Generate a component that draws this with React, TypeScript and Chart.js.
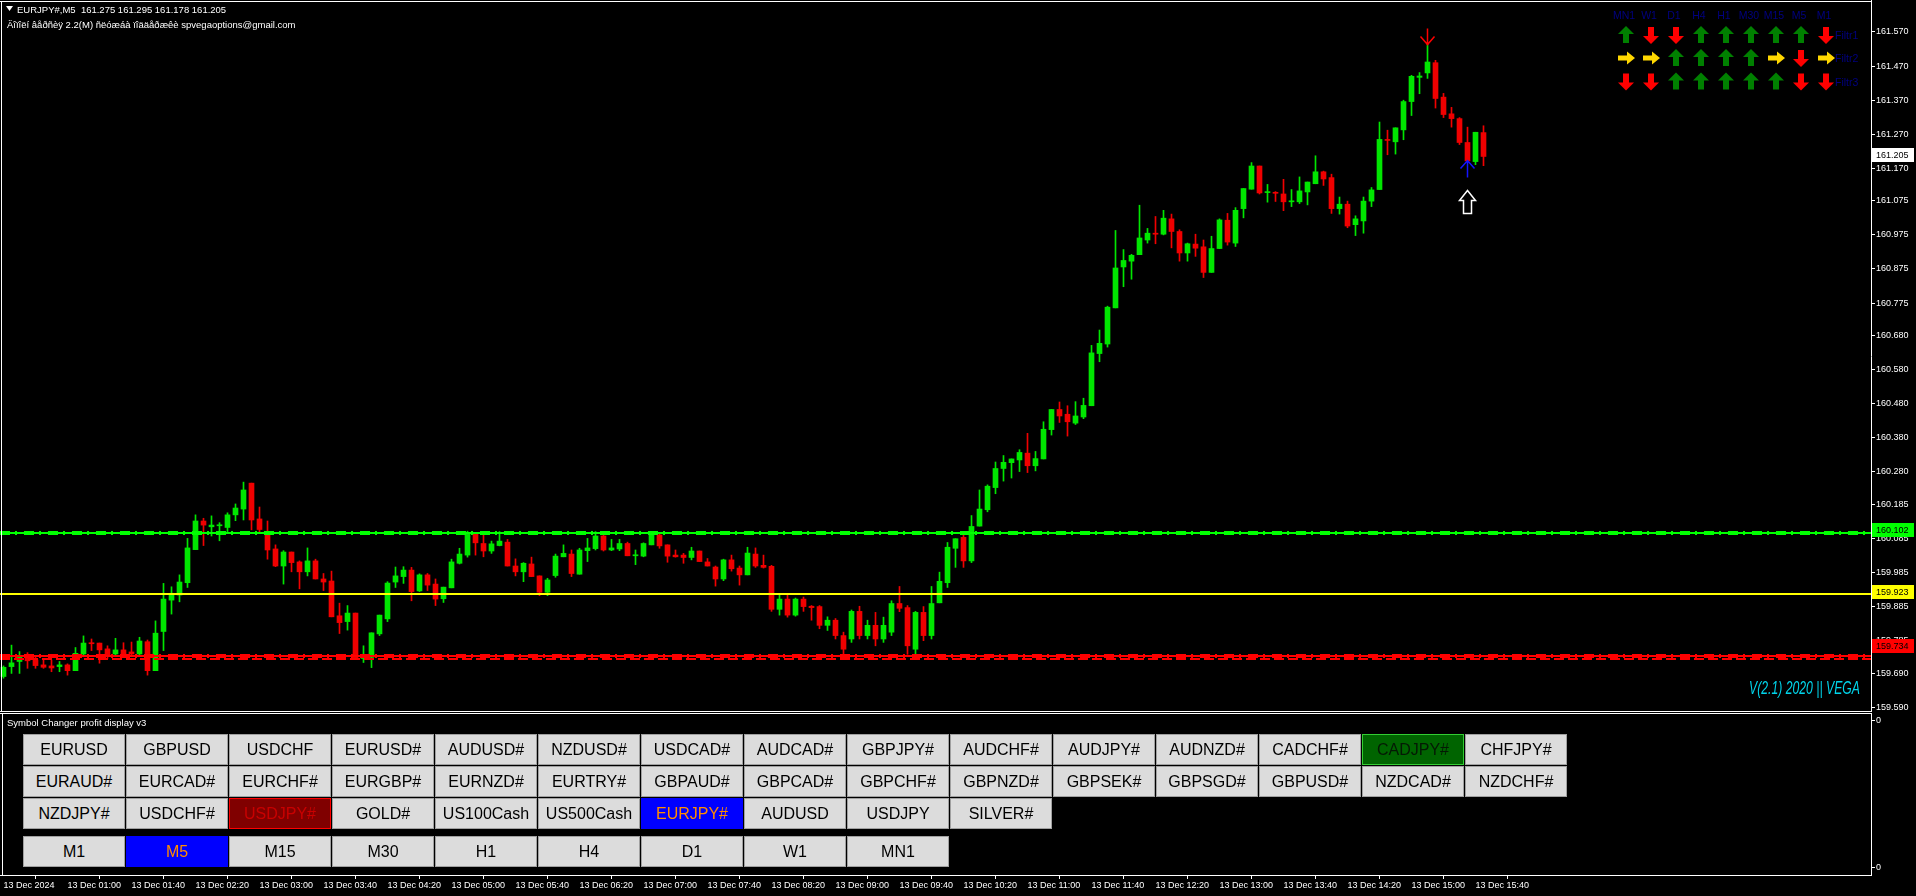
import React, { useEffect, useRef } from "react";
import { Chart, registerables } from "chart.js";

Chart.register(...registerables);

const FONT = '"Liberation Sans", Arial, sans-serif';

// ---------- DATA ----------
const timeLabels = [
  "13 Dec 2024", "13 Dec 01:00", "13 Dec 01:40", "13 Dec 02:20", "13 Dec 03:00", "13 Dec 03:40",
  "13 Dec 04:20", "13 Dec 05:00", "13 Dec 05:40", "13 Dec 06:20", "13 Dec 07:00", "13 Dec 07:40",
  "13 Dec 08:20", "13 Dec 09:00", "13 Dec 09:40", "13 Dec 10:20", "13 Dec 11:00", "13 Dec 11:40",
  "13 Dec 12:20", "13 Dec 13:00", "13 Dec 13:40", "13 Dec 14:20", "13 Dec 15:00", "13 Dec 15:40",
];
const barsPerTimeLabel = 8;

const opens = [
  159.680, 159.709, 159.724, 159.743, 159.728, 159.714, 159.711, 159.709, 159.714, 159.697,
  159.746, 159.779, 159.778, 159.761, 159.746, 159.758, 159.752, 159.746, 159.782, 159.697,
  159.812, 159.904, 159.919, 159.955, 160.052, 160.136, 160.119, 160.122, 160.117, 160.154,
  160.171, 160.247, 160.142, 160.105, 160.054, 160.004, 160.045, 160.016, 159.987, 160.019,
  159.966, 159.960, 159.858, 159.841, 159.866, 159.733, 159.736, 159.805, 159.849, 159.957,
  159.973, 159.992, 159.931, 159.978, 159.951, 159.908, 159.940, 160.012, 160.036, 160.098,
  160.070, 160.048, 160.064, 160.074, 160.004, 159.987, 160.010, 159.975, 159.927, 159.976,
  160.031, 160.039, 159.980, 160.049, 160.055, 160.092, 160.051, 160.054, 160.070, 160.034,
  160.033, 160.066, 160.095, 160.066, 160.036, 160.036, 160.029, 160.048, 160.016, 160.001,
  159.966, 160.022, 159.998, 159.978, 160.039, 160.006, 160.003, 159.877, 159.907, 159.860,
  159.907, 159.886, 159.885, 159.830, 159.845, 159.800, 159.790, 159.871, 159.800, 159.830,
  159.790, 159.810, 159.894, 159.882, 159.760, 159.868, 159.800, 159.896, 159.955, 160.056,
  160.088, 160.019, 160.121, 160.169, 160.234, 160.290, 160.307, 160.315, 160.335, 160.298,
  160.318, 160.404, 160.463, 160.449, 160.423, 160.441, 160.474, 160.627, 160.655, 160.761,
  160.881, 160.898, 160.917, 160.960, 160.980, 160.977, 161.022, 160.985, 160.922, 160.948,
  160.940, 160.865, 160.935, 161.018, 160.951, 161.052, 161.109, 161.177, 161.099, 161.099,
  161.095, 161.072, 161.072, 161.101, 161.125, 161.160, 161.143, 161.052, 161.065, 161.005,
  161.016, 161.074, 161.108, 161.255, 161.248, 161.283, 161.366, 161.437, 161.450, 161.480,
  161.379, 161.330, 161.316, 161.246, 161.190, 161.275,
];
const highs = [
  159.711, 159.772, 159.753, 159.750, 159.738, 159.733, 159.728, 159.724, 159.717, 159.765,
  159.799, 159.790, 159.778, 159.770, 159.792, 159.779, 159.781, 159.795, 159.787, 159.843,
  159.953, 159.943, 159.978, 160.085, 160.154, 160.144, 160.151, 160.131, 160.160, 160.186,
  160.250, 160.247, 160.177, 160.136, 160.066, 160.049, 160.045, 160.019, 160.057, 160.024,
  159.982, 159.989, 159.895, 159.888, 159.866, 159.770, 159.808, 159.860, 159.958, 160.001,
  160.002, 160.000, 159.981, 159.982, 159.966, 159.942, 160.024, 160.056, 160.106, 160.102,
  160.100, 160.077, 160.105, 160.082, 160.025, 160.014, 160.030, 159.975, 159.968, 160.039,
  160.066, 160.051, 160.056, 160.085, 160.105, 160.100, 160.082, 160.082, 160.074, 160.051,
  160.072, 160.102, 160.098, 160.066, 160.051, 160.041, 160.059, 160.048, 160.026, 160.004,
  160.024, 160.036, 160.004, 160.059, 160.057, 160.036, 160.006, 159.922, 159.918, 159.910,
  159.913, 159.888, 159.888, 159.855, 159.850, 159.810, 159.875, 159.886, 159.845, 159.868,
  159.854, 159.902, 159.944, 159.888, 159.871, 159.885, 159.944, 159.986, 160.073, 160.084,
  160.096, 160.152, 160.227, 160.242, 160.309, 160.328, 160.318, 160.345, 160.393, 160.340,
  160.427, 160.463, 160.485, 160.474, 160.486, 160.496, 160.651, 160.696, 160.766, 160.988,
  160.932, 160.918, 161.062, 160.994, 161.029, 161.047, 161.036, 160.990, 160.951, 160.977,
  160.960, 160.971, 161.022, 161.038, 161.055, 161.111, 161.187, 161.177, 161.123, 161.102,
  161.138, 161.108, 161.145, 161.130, 161.207, 161.162, 161.153, 161.086, 161.074, 161.031,
  161.086, 161.114, 161.306, 161.282, 161.289, 161.370, 161.443, 161.451, 161.536, 161.487,
  161.390, 161.349, 161.319, 161.291, 161.276, 161.295,
];
const lows = [
  159.675, 159.689, 159.689, 159.704, 159.704, 159.704, 159.694, 159.694, 159.684, 159.697,
  159.738, 159.756, 159.719, 159.733, 159.738, 159.738, 159.738, 159.743, 159.684, 159.697,
  159.756, 159.863, 159.899, 159.941, 160.052, 160.064, 160.092, 160.078, 160.100, 160.137,
  160.139, 160.110, 160.100, 160.024, 160.002, 159.951, 159.987, 159.937, 159.975, 159.966,
  159.932, 159.855, 159.806, 159.816, 159.733, 159.721, 159.706, 159.800, 159.841, 159.941,
  159.953, 159.902, 159.929, 159.932, 159.888, 159.897, 159.940, 160.010, 160.030, 160.036,
  160.031, 160.041, 160.063, 160.004, 159.975, 159.958, 159.973, 159.917, 159.917, 159.971,
  160.031, 159.973, 159.980, 160.017, 160.051, 160.048, 160.049, 160.049, 160.034, 160.008,
  160.031, 160.066, 160.056, 160.015, 160.030, 160.012, 160.022, 160.017, 160.004, 159.945,
  159.961, 159.989, 159.948, 159.978, 160.000, 159.998, 159.871, 159.860, 159.854, 159.857,
  159.871, 159.845, 159.820, 159.815, 159.790, 159.745, 159.780, 159.790, 159.790, 159.770,
  159.780, 159.800, 159.870, 159.745, 159.740, 159.785, 159.790, 159.896, 159.941, 160.000,
  160.000, 160.014, 160.121, 160.163, 160.216, 160.253, 160.262, 160.281, 160.278, 160.283,
  160.318, 160.388, 160.425, 160.385, 160.419, 160.436, 160.474, 160.603, 160.646, 160.761,
  160.823, 160.845, 160.917, 160.951, 160.949, 160.975, 160.937, 160.898, 160.898, 160.912,
  160.850, 160.865, 160.935, 160.945, 160.941, 161.025, 161.109, 161.095, 161.071, 161.073,
  161.046, 161.058, 161.067, 161.063, 161.125, 161.120, 161.038, 161.036, 160.996, 160.973,
  160.980, 161.058, 161.108, 161.210, 161.212, 161.254, 161.325, 161.389, 161.434, 161.347,
  161.319, 161.291, 161.240, 161.190, 161.181, 161.178,
];
const closes = [
  159.707, 159.720, 159.736, 159.726, 159.712, 159.707, 159.705, 159.714, 159.697, 159.748,
  159.778, 159.776, 159.758, 159.743, 159.758, 159.746, 159.746, 159.784, 159.697, 159.807,
  159.907, 159.924, 159.957, 160.057, 160.136, 160.124, 160.124, 160.124, 160.154, 160.174,
  160.227, 160.139, 160.111, 160.051, 160.004, 160.045, 160.014, 159.987, 160.019, 159.966,
  159.957, 159.855, 159.838, 159.866, 159.733, 159.745, 159.808, 159.860, 159.954, 159.975,
  159.992, 159.929, 159.978, 159.948, 159.907, 159.942, 160.016, 160.039, 160.098, 160.072,
  160.048, 160.069, 160.077, 160.004, 159.987, 160.012, 159.973, 159.927, 159.963, 160.033,
  160.041, 159.982, 160.051, 160.057, 160.092, 160.051, 160.057, 160.070, 160.034, 160.036,
  160.070, 160.098, 160.063, 160.033, 160.031, 160.029, 160.048, 160.017, 160.004, 159.966,
  160.022, 159.996, 159.978, 160.042, 160.004, 160.000, 159.877, 159.907, 159.860, 159.907,
  159.885, 159.882, 159.830, 159.845, 159.800, 159.760, 159.871, 159.800, 159.830, 159.790,
  159.830, 159.894, 159.880, 159.770, 159.868, 159.800, 159.894, 159.959, 160.059, 160.084,
  160.019, 160.120, 160.171, 160.238, 160.290, 160.308, 160.318, 160.337, 160.298, 160.319,
  160.405, 160.463, 160.444, 160.427, 160.444, 160.475, 160.629, 160.657, 160.763, 160.878,
  160.900, 160.915, 160.966, 160.980, 160.977, 161.024, 160.985, 160.922, 160.949, 160.936,
  160.865, 160.935, 161.019, 160.954, 161.047, 161.111, 161.177, 161.098, 161.101, 161.097,
  161.072, 161.074, 161.104, 161.130, 161.160, 161.139, 161.052, 161.065, 161.001, 161.022,
  161.074, 161.107, 161.255, 161.252, 161.289, 161.366, 161.440, 161.441, 161.482, 161.375,
  161.328, 161.316, 161.246, 161.192, 161.276, 161.205,
];

const priceTicks = [
  161.570, 161.470, 161.370, 161.270, 161.170, 161.075, 160.975, 160.875, 160.775, 160.680,
  160.580, 160.480, 160.380, 160.280, 160.185, 160.085, 159.985, 159.885, 159.785, 159.690, 159.590,
];
const levelPrices = [160.102, 159.923, 159.740, 159.734];
const levelLabelPrices = [160.102, 159.923, 159.734];
const lastPrice = 161.205;
const sellSignalBars = [178];
const buySignalBars = [183];
const hollowArrowPrices = [161.105];

const panelTimeframes = ["MN1", "W1", "D1", "H4", "H1", "M30", "M15", "M5", "M1"];
const panelFilters = ["Filtr1", "Filtr2", "Filtr3"];
const filtr1 = ["up", "down", "down", "up", "up", "up", "up", "up", "down"];
const filtr2 = ["right", "right", "up", "up", "up", "up", "right", "down", "right"];
const filtr3 = ["down", "down", "up", "up", "up", "up", "up", "down", "down"];

const symbolsRow1 = ["EURUSD", "GBPUSD", "USDCHF", "EURUSD#", "AUDUSD#", "NZDUSD#", "USDCAD#", "AUDCAD#", "GBPJPY#", "AUDCHF#", "AUDJPY#", "AUDNZD#", "CADCHF#", "CADJPY#", "CHFJPY#"];
const symbolsRow2 = ["EURAUD#", "EURCAD#", "EURCHF#", "EURGBP#", "EURNZD#", "EURTRY#", "GBPAUD#", "GBPCAD#", "GBPCHF#", "GBPNZD#", "GBPSEK#", "GBPSGD#", "GBPUSD#", "NZDCAD#", "NZDCHF#"];
const symbolsRow3 = ["NZDJPY#", "USDCHF#", "USDJPY#", "GOLD#", "US100Cash", "US500Cash", "EURJPY#", "AUDUSD", "USDJPY", "SILVER#"];
const periodButtons = ["M1", "M5", "M15", "M30", "H1", "H4", "D1", "W1", "MN1"];
const lossSymbols = ["USDJPY#"];
const profitSymbols = ["CADJPY#"];
const currentSymbol = "EURJPY#";
const currentPeriod = "M5";

const subAxisLabels = ["0", "0"];

// ---------- LAYOUT ----------
const W = 1916;
const AXIS_W = 45;
const MAIN_H = 712;
const SUB_TOP = 713;
const SUB_H = 183;
const X_MIN = -3.5 / 8;
const X_MAX = X_MIN + (W - AXIS_W) / 8;
const PRICE_MAX = 161.570 + 32 / 341;
const PRICE_MIN = PRICE_MAX - MAIN_H / 341;
const BULL = "#00e600";
const BEAR = "#f00000";

function thickLevel(ctx: CanvasRenderingContext2D, left: number, right: number, y: number, color: string) {
  ctx.fillStyle = color;
  ctx.fillRect(left, y - 1, right - left, 2);
  for (let x = left; x < right; x += 24) {
    ctx.fillRect(x, y - 2, Math.min(10, right - x), 4);
    if (x + 15 < right) ctx.fillRect(x + 15, y - 2, 2, 4);
  }
}

const mainOverlay = {
  id: "mainOverlay",
  beforeDraw(chart: any) {
    const { ctx } = chart;
    ctx.save();
    ctx.fillStyle = "#000";
    ctx.fillRect(0, 0, chart.width, chart.height);
    ctx.restore();
  },
  afterDatasetsDraw(chart: any) {
    const { ctx, chartArea: a, scales } = chart;
    const x = scales.x;
    const y = scales.y;
    ctx.save();
    ctx.beginPath();
    ctx.rect(a.left, a.top, a.right - a.left, a.bottom - a.top);
    ctx.clip();
    const yy = Math.round(y.getPixelForValue(levelPrices[1]));
    ctx.fillStyle = "#ffff00";
    ctx.fillRect(a.left, yy - 1, a.right - a.left, 2);
    thickLevel(ctx, a.left, a.right, Math.round(y.getPixelForValue(levelPrices[0])), "#00ff00");
    thickLevel(ctx, a.left, a.right, Math.round(y.getPixelForValue(levelPrices[2])), "#ff0000");
    const yr = Math.round(y.getPixelForValue(levelPrices[3])) + 1;
    ctx.strokeStyle = "#ff0000";
    ctx.lineWidth = 2;
    ctx.setLineDash([10, 4]);
    ctx.beginPath();
    ctx.moveTo(a.left, yr);
    ctx.lineTo(a.right, yr);
    ctx.stroke();
    ctx.setLineDash([]);

    ctx.lineWidth = 1.5;
    sellSignalBars.forEach((k) => {
      const px = x.getPixelForValue(k);
      const tip = y.getPixelForValue(highs[k]) + 1;
      ctx.strokeStyle = "#ff0000";
      ctx.beginPath();
      ctx.moveTo(px, tip - 16);
      ctx.lineTo(px, tip);
      ctx.moveTo(px - 7, tip - 8);
      ctx.lineTo(px, tip);
      ctx.lineTo(px + 7, tip - 8);
      ctx.stroke();
    });
    buySignalBars.forEach((k) => {
      const px = x.getPixelForValue(k);
      const tip = y.getPixelForValue(lows[k]) - 1;
      ctx.strokeStyle = "#1414ff";
      ctx.lineWidth = 1.5;
      ctx.beginPath();
      ctx.moveTo(px, tip + 17);
      ctx.lineTo(px, tip);
      ctx.moveTo(px - 7, tip + 8);
      ctx.lineTo(px, tip);
      ctx.lineTo(px + 7, tip + 8);
      ctx.stroke();
      hollowArrowPrices.forEach((p) => {
        const top = y.getPixelForValue(p);
        ctx.strokeStyle = "#ffffff";
        ctx.fillStyle = "#000";
        ctx.lineWidth = 1.5;
        ctx.beginPath();
        ctx.moveTo(px, top);
        ctx.lineTo(px + 8, top + 10);
        ctx.lineTo(px + 4, top + 10);
        ctx.lineTo(px + 4, top + 23);
        ctx.lineTo(px - 4, top + 23);
        ctx.lineTo(px - 4, top + 10);
        ctx.lineTo(px - 8, top + 10);
        ctx.closePath();
        ctx.fill();
        ctx.stroke();
      });
    });

    ctx.save();
    ctx.font = `italic 18px ${FONT}`;
    const text = "V(2.1) 2020 || VEGA";
    const w = ctx.measureText(text).width;
    ctx.translate(1860, 689);
    ctx.scale(111 / w, 1);
    ctx.fillStyle = "#00d4ea";
    ctx.textAlign = "right";
    ctx.textBaseline = "middle";
    ctx.fillText(text, 0, 0);
    ctx.restore();

    ctx.restore();
  },
  afterDraw(chart: any) {
    const { ctx, chartArea: a, scales } = chart;
    const y = scales.y;
    ctx.save();
    ctx.fillStyle = "#ffffff";
    ctx.fillRect(0, 1, a.right, 1);
    ctx.fillRect(1, 1, 1, a.bottom);
    ctx.fillRect(0, a.bottom - 1, a.right + 1, 1);
    const boxes = [
      { v: levelLabelPrices[0], bg: "#00ff00", dy: -3 },
      { v: levelLabelPrices[1], bg: "#ffff00", dy: -1.5 },
      { v: levelLabelPrices[2], bg: "#ff0000", dy: -12 },
      { v: lastPrice, bg: "#ffffff", dy: -1 },
    ];
    ctx.font = `9px ${FONT}`;
    ctx.textBaseline = "middle";
    boxes.forEach((b) => {
      const cy = Math.round(y.getPixelForValue(b.v) + b.dy);
      ctx.fillStyle = b.bg;
      ctx.fillRect(a.right + 1, cy - 7, 42, 14);
      ctx.fillStyle = "#000";
      ctx.fillText(b.v.toFixed(3), a.right + 5, cy + 0.5);
    });
    ctx.restore();
  },
};

const subOverlay = {
  id: "subOverlay",
  beforeDraw(chart: any) {
    const { ctx } = chart;
    ctx.save();
    ctx.fillStyle = "#000";
    ctx.fillRect(0, 0, chart.width, chart.height);
    ctx.restore();
  },
  afterDraw(chart: any) {
    const { ctx, chartArea: a } = chart;
    ctx.save();
    ctx.fillStyle = "#ffffff";
    ctx.fillRect(0, a.top, a.right, 1);
    ctx.fillRect(2, a.top, 1, a.bottom - a.top);
    ctx.restore();
  },
};

function PanelArrow({ dir, cx, cy }: { dir: string; cx: number; cy: number }) {
  const color = dir === "up" ? "#008000" : dir === "down" ? "#ff0000" : "#ffd700";
  const rot = dir === "up" ? 0 : dir === "down" ? 180 : 90;
  const sc = dir === "right" ? "scale(0.8,1)" : "";
  return (
    <polygon
      points="0,-9 8,-1 3,-1 3,8 -3,8 -3,-1 -8,-1"
      fill={color}
      transform={`translate(${cx},${cy}) rotate(${rot}) ${sc}`}
    />
  );
}

function SymbolButton({ label, left, top }: { label: string; left: number; top: number }) {
  let bg = "#dcdcdc";
  let border = "#a0a0a0";
  let color = "#000";
  if (lossSymbols.includes(label)) {
    bg = "#800000";
    border = "#ff0000";
    color = "#c80000";
  } else if (profitSymbols.includes(label)) {
    bg = "#006400";
    border = "#32cd32";
    color = "#041a04";
  } else if (label === currentSymbol || label === currentPeriod) {
    bg = "#0000ff";
    border = "#0000ff";
    color = "#ff8c00";
  }
  return (
    <div
      style={{
        position: "absolute",
        left,
        top,
        width: 102,
        height: 31,
        boxSizing: "border-box",
        border: `1px solid ${border}`,
        background: bg,
        color,
        font: `16px ${FONT}`,
        lineHeight: "29px",
        textAlign: "center",
        whiteSpace: "nowrap",
      }}
    >
      {label}
    </div>
  );
}

export default function App() {
  const mainRef = useRef<HTMLCanvasElement>(null);
  const subRef = useRef<HTMLCanvasElement>(null);

  useEffect(() => {
    document.body.style.margin = "0";
    document.body.style.background = "#000";
    const idx = opens.map((_, i) => i);
    const colors = idx.map((i) => (closes[i] >= opens[i] ? BULL : BEAR));
    const wicks = idx.map((i) => ({ x: i, y: [lows[i], highs[i]] }));
    const bodies = idx.map((i) => ({
      x: i,
      y: [Math.min(opens[i], closes[i]), Math.max(opens[i], closes[i])],
    }));

    const main = new Chart(mainRef.current as HTMLCanvasElement, {
      type: "bar",
      data: {
        datasets: [
          {
            data: wicks as any,
            backgroundColor: colors,
            borderWidth: 0,
            grouped: false,
            barThickness: 1,
            maxBarThickness: 1,
            order: 2,
          } as any,
          {
            data: bodies as any,
            backgroundColor: colors,
            borderWidth: 0,
            grouped: false,
            barThickness: 5,
            maxBarThickness: 5,
            minBarLength: 1,
            order: 1,
          } as any,
        ],
      },
      options: {
        animation: false,
        responsive: false,
        maintainAspectRatio: false,
        events: [],
        layout: { padding: 0 },
        plugins: { legend: { display: false }, tooltip: { enabled: false } },
        scales: {
          x: {
            type: "linear",
            display: false,
            min: X_MIN,
            max: X_MAX,
            offset: false,
          },
          y: {
            type: "linear",
            position: "right",
            min: PRICE_MIN,
            max: PRICE_MAX,
            afterBuildTicks: (s: any) => {
              s.ticks = priceTicks.map((v) => ({ value: v }));
            },
            afterFit: (s: any) => {
              s.width = AXIS_W;
              s.paddingTop = 0;
              s.paddingBottom = 0;
            },
            ticks: {
              color: "#ffffff",
              font: { family: FONT, size: 9 },
              padding: 1,
              autoSkip: false,
              callback: (v: any) => Number(v).toFixed(3),
            },
            grid: { drawOnChartArea: false, drawTicks: true, tickLength: 4, color: "#ffffff" },
            border: { display: true, color: "#ffffff", width: 1 },
          },
        },
      } as any,
      plugins: [mainOverlay],
    });

    const sub = new Chart(subRef.current as HTMLCanvasElement, {
      type: "bar",
      data: { datasets: [{ data: [] as any, backgroundColor: "#000" }] },
      options: {
        animation: false,
        responsive: false,
        maintainAspectRatio: false,
        events: [],
        layout: { padding: 0 },
        plugins: { legend: { display: false }, tooltip: { enabled: false } },
        scales: {
          x: {
            type: "linear",
            position: "bottom",
            min: X_MIN,
            max: X_MAX,
            offset: false,
            afterBuildTicks: (s: any) => {
              s.ticks = timeLabels.map((_, i) => ({ value: i * barsPerTimeLabel }));
            },
            afterFit: (s: any) => {
              s.height = 21;
              s.paddingLeft = 0;
              s.paddingRight = 0;
            },
            ticks: {
              color: "#ffffff",
              font: { family: FONT, size: 9 },
              padding: 1,
              autoSkip: false,
              maxRotation: 0,
              minRotation: 0,
              align: "start",
              callback: (_v: any, i: number) => timeLabels[i],
            },
            grid: { drawOnChartArea: false, drawTicks: true, tickLength: 4, color: "#ffffff" },
            border: { display: true, color: "#ffffff", width: 1 },
          },
          y: {
            type: "linear",
            position: "right",
            min: -1,
            max: 1,
            afterBuildTicks: (s: any) => {
              s.ticks = [{ value: 0.91 }, { value: -0.91 }];
            },
            afterFit: (s: any) => {
              s.width = AXIS_W;
              s.paddingTop = 0;
              s.paddingBottom = 0;
            },
            ticks: {
              color: "#ffffff",
              font: { family: FONT, size: 9 },
              padding: 1,
              autoSkip: false,
              callback: (_v: any, i: number) => subAxisLabels[i],
            },
            grid: { drawOnChartArea: false, drawTicks: true, tickLength: 4, color: "#ffffff" },
            border: { display: true, color: "#ffffff", width: 1 },
          },
        },
      } as any,
      plugins: [subOverlay],
    });

    return () => {
      main.destroy();
      sub.destroy();
    };
  }, []);

  const colX = (i: number) => 1626 + 25 * i - 1600;
  const rowY = [35, 58, 81.5];
  const filterRows = [filtr1, filtr2, filtr3];

  return (
    <div style={{ position: "fixed", left: 0, top: 0, width: W, height: 896, background: "#000", overflow: "hidden" }}>
      <canvas ref={mainRef} width={W} height={MAIN_H} style={{ position: "absolute", left: 0, top: 0, display: "block" }} />
      <canvas ref={subRef} width={W} height={SUB_H} style={{ position: "absolute", left: 0, top: SUB_TOP, display: "block" }} />

      <svg style={{ position: "absolute", left: 6, top: 6 }} width={8} height={6}>
        <polygon points="0,0 7,0 3.5,5" fill="#fff" />
      </svg>
      <div style={{ position: "absolute", left: 17, top: 3, color: "#fff", font: `9.5px ${FONT}`, lineHeight: "14px", whiteSpace: "pre" }}>
        {"EURJPY#,M5  161.275 161.295 161.178 161.205"}
      </div>
      <div style={{ position: "absolute", left: 7, top: 18, color: "#fff", font: `9.5px ${FONT}`, lineHeight: "14px", whiteSpace: "pre" }}>
        {"Äîïîëí âåðñèÿ 2.2(M) ñëóæáà ïîääåðæêè spvegaoptions@gmail.com"}
      </div>

      <svg style={{ position: "absolute", left: 1600, top: 0 }} width={270} height={100}>
        {panelTimeframes.map((t, i) => (
          <text key={t} x={colX(i) - 2} y={19} fill="#000080" fontFamily={FONT} fontSize={10.5} textAnchor="middle">
            {t}
          </text>
        ))}
        {filterRows.map((row, r) =>
          row.map((d, i) => <PanelArrow key={`${r}-${i}`} dir={d} cx={colX(i)} cy={rowY[r]} />)
        )}
        {panelFilters.map((f, r) => (
          <text key={f} x={235} y={rowY[r] + 4} fill="#000080" fontFamily={FONT} fontSize={10.5}>
            {f}
          </text>
        ))}
      </svg>

      <div style={{ position: "absolute", left: 7, top: 717, color: "#fff", font: `9.5px ${FONT}`, lineHeight: "12px", whiteSpace: "pre" }}>
        Symbol Changer profit display v3
      </div>
      {symbolsRow1.map((s, i) => (
        <SymbolButton key={`r1-${i}`} label={s} left={23 + 103 * i} top={734} />
      ))}
      {symbolsRow2.map((s, i) => (
        <SymbolButton key={`r2-${i}`} label={s} left={23 + 103 * i} top={766} />
      ))}
      {symbolsRow3.map((s, i) => (
        <SymbolButton key={`r3-${i}`} label={s} left={23 + 103 * i} top={798} />
      ))}
      {periodButtons.map((s, i) => (
        <SymbolButton key={`p-${i}`} label={s} left={23 + 103 * i} top={836} />
      ))}
    </div>
  );
}
